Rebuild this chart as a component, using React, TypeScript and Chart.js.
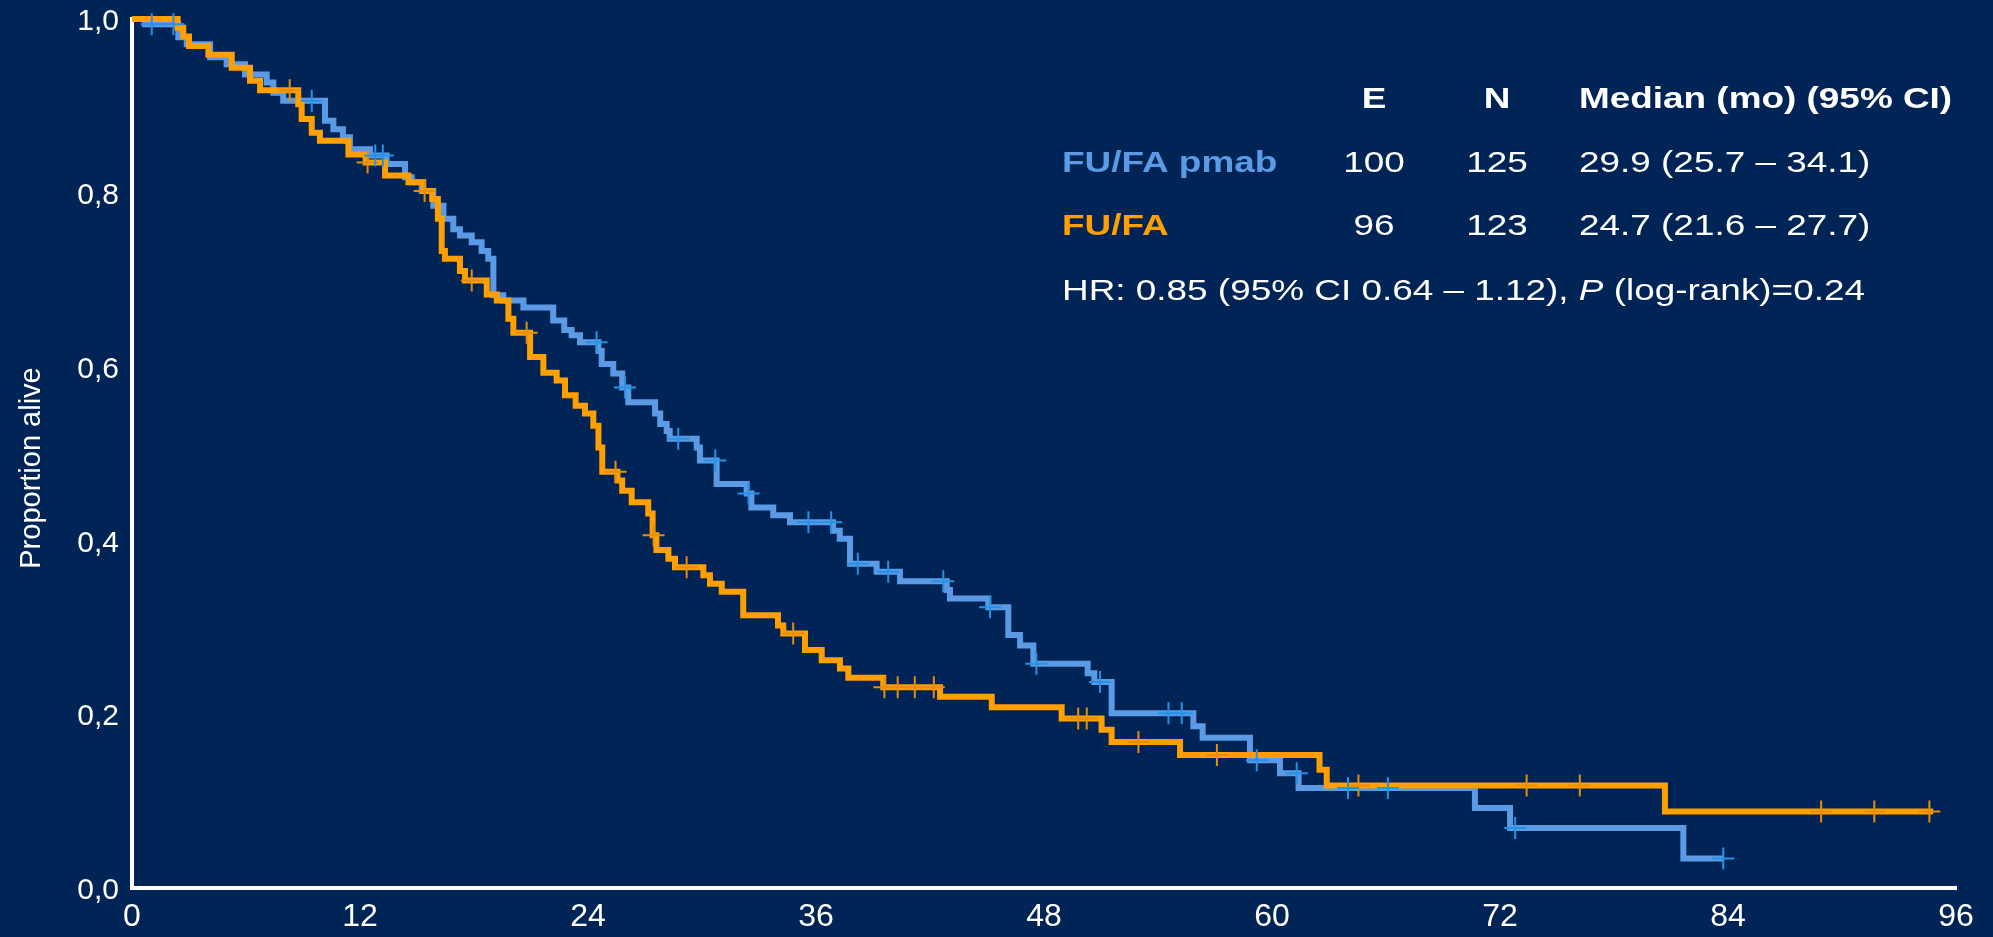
import React, { useEffect, useRef } from 'react';
import { Chart, registerables } from 'chart.js';

Chart.register(...registerables);

// ---------- data ----------
const xTicks = [0, 12, 24, 36, 48, 60, 72, 84, 96];
const yTicks = [0, 0.2, 0.4, 0.6, 0.8, 1.0];
const yTitle = 'Proportion alive';

// FU/FA + panitumumab (blue)
const pmabTimes = [0, 0.68, 2.44, 2.88, 4.11, 4.98, 5.95, 7.09, 7.44, 7.96, 10.16, 10.6, 11.1, 11.47, 12.53, 13.4, 14.37, 14.72, 15.25, 15.86, 16.39, 16.91, 17.26, 17.88, 18.4, 18.75, 19.02, 19.54, 20.6, 22.17, 22.75, 23.14, 23.58, 24.55, 24.72, 25.33, 25.8, 26.12, 27.53, 27.8, 28.14, 28.3, 29.72, 29.89, 30.77, 32.35, 32.6, 33.75, 34.63, 36.9, 37.25, 37.79, 39.19, 40.42, 42.88, 43.05, 45.07, 46.12, 46.74, 47.44, 50.3, 50.65, 51.56, 55.86, 56.35, 58.84, 60.42, 61.4, 70.68, 72.53, 81.65];
const pmabSurv = [1, 0.994, 0.979, 0.971, 0.956, 0.948, 0.936, 0.927, 0.915, 0.906, 0.883, 0.873, 0.864, 0.85, 0.843, 0.833, 0.818, 0.812, 0.802, 0.785, 0.77, 0.758, 0.751, 0.743, 0.733, 0.724, 0.682, 0.676, 0.668, 0.653, 0.642, 0.636, 0.628, 0.618, 0.603, 0.592, 0.576, 0.559, 0.546, 0.534, 0.526, 0.517, 0.507, 0.492, 0.465, 0.454, 0.438, 0.429, 0.421, 0.411, 0.402, 0.373, 0.364, 0.353, 0.343, 0.333, 0.323, 0.291, 0.279, 0.258, 0.247, 0.237, 0.201, 0.186, 0.173, 0.147, 0.132, 0.115, 0.092, 0.069, 0.034];
const pmabEnd = 83.75;
const pmabCensor = [1.04, 2.18, 9.46, 12.8, 13.2, 24.45, 25.95, 28.75, 30.7, 32.45, 35.6, 36.8, 38.2, 39.8, 42.7, 45.16, 47.6, 50.95, 54.55, 55.25, 59.2, 61.3, 64.0, 66.1, 72.8, 83.75];

// FU/FA (orange)
const fufaTimes = [0, 2.4, 2.7, 3.0, 4.02, 5.25, 6.21, 6.74, 8.75, 8.93, 9.46, 9.89, 11.39, 12.3, 13.32, 14.55, 15.33, 15.8, 16.1, 16.3, 16.47, 17.26, 17.53, 18.67, 19.2, 19.81, 20.07, 20.95, 21.65, 22.35, 22.79, 23.35, 23.84, 24.28, 24.55, 24.75, 25.55, 25.8, 26.3, 27.17, 27.4, 27.6, 28.23, 28.58, 30.07, 30.42, 31.04, 32.17, 34.0, 34.28, 35.42, 36.3, 37.26, 37.7, 39.54, 42.53, 45.25, 48.93, 51.03, 51.56, 55.16, 62.5, 62.88, 80.68];
const fufaSurv = [1, 0.99, 0.98, 0.969, 0.959, 0.944, 0.929, 0.918, 0.902, 0.885, 0.869, 0.86, 0.844, 0.835, 0.82, 0.812, 0.802, 0.793, 0.77, 0.733, 0.724, 0.71, 0.699, 0.683, 0.676, 0.655, 0.639, 0.611, 0.593, 0.584, 0.567, 0.555, 0.546, 0.532, 0.507, 0.479, 0.469, 0.457, 0.444, 0.431, 0.406, 0.389, 0.379, 0.369, 0.36, 0.35, 0.341, 0.314, 0.302, 0.293, 0.274, 0.262, 0.2525, 0.242, 0.231, 0.22, 0.208, 0.195, 0.182, 0.168, 0.153, 0.136, 0.118, 0.088];
const fufaEnd = 94.8;
const fufaCensor = [8.3, 12.4, 15.4, 17.88, 20.77, 25.45, 27.45, 29.19, 34.8, 39.6, 40.3, 41.2, 42.2, 49.8, 50.25, 52.97, 57.1, 64.55, 73.4, 76.2, 88.9, 91.7, 94.6];

// summary table
const tableColumns = ['E', 'N', 'Median (mo) (95% CI)'];
const armNames = ['FU/FA pmab', 'FU/FA'];
const armEvents = ['100', '96'];
const armN = ['125', '123'];
const armMedians = ['29.9 (25.7 \u2013 34.1)', '24.7 (21.6 \u2013 27.7)'];
const hrParts = ['HR: 0.85 (95% CI 0.64 \u2013 1.12), ', 'P', ' (log-rank)=0.24'];

// ---------- styles ----------
const BG = '#002456';
const BLUE = '#5B9BE6';
const BLUE_MARK = '#2592E6';
const ORANGE = '#FF9F00';
const ORANGE_MARK = '#E48E0C';
const FONT = '"Liberation Sans", Arial, sans-serif';
const SX = 1.23;

function stepValue(times: number[], surv: number[], t: number): number {
  let v = surv[0];
  for (let i = 0; i < times.length; i++) {
    if (times[i] <= t) v = surv[i];
    else break;
  }
  return v;
}

function curvePoints(times: number[], surv: number[], end: number) {
  const pts = times.map((t, i) => ({ x: t, y: surv[i] }));
  pts.push({ x: end, y: surv[surv.length - 1] });
  return pts;
}

function censorPoints(times: number[], surv: number[], cens: number[]) {
  return cens.map((t) => ({ x: t, y: stepValue(times, surv, t) }));
}

function drawStretched(ctx: CanvasRenderingContext2D, text: string, x: number, y: number, align: CanvasTextAlign, font: string, color: string) {
  ctx.save();
  ctx.font = font;
  ctx.fillStyle = color;
  ctx.textAlign = align;
  ctx.textBaseline = 'alphabetic';
  ctx.translate(x, y);
  ctx.scale(SX, 1);
  ctx.fillText(text, 0, 0);
  ctx.restore();
}

const textPlugin = {
  id: 'kmText',
  afterDraw(chart: any) {
    const ctx: CanvasRenderingContext2D = chart.ctx;
    // y axis title
    ctx.save();
    ctx.fillStyle = '#FFFFFF';
    ctx.font = `29px ${FONT}`;
    ctx.translate(40, 468);
    ctx.rotate(-Math.PI / 2);
    ctx.textAlign = 'center';
    ctx.textBaseline = 'alphabetic';
    ctx.fillText(yTitle, 0, 0);
    ctx.restore();

    const bold = `bold 30px ${FONT}`;
    const reg = `30px ${FONT}`;
    const colE = 1374;
    const colN = 1497;
    const colMed = 1579;
    const colName = 1062;
    const rows = [108, 172, 235];
    // header
    drawStretched(ctx, tableColumns[0], colE, rows[0], 'center', bold, '#FFFFFF');
    drawStretched(ctx, tableColumns[1], colN, rows[0], 'center', bold, '#FFFFFF');
    drawStretched(ctx, tableColumns[2], colMed, rows[0], 'left', bold, '#FFFFFF');
    const armColors = [BLUE, ORANGE];
    for (let i = 0; i < armNames.length; i++) {
      const y = rows[i + 1];
      drawStretched(ctx, armNames[i], colName, y, 'left', bold, armColors[i]);
      drawStretched(ctx, armEvents[i], colE, y, 'center', reg, '#FFFFFF');
      drawStretched(ctx, armN[i], colN, y, 'center', reg, '#FFFFFF');
      drawStretched(ctx, armMedians[i], colMed, y, 'left', reg, '#FFFFFF');
    }
    // HR line
    const fonts = [reg, `italic 30px ${FONT}`, reg];
    let x = colName;
    for (let i = 0; i < hrParts.length; i++) {
      ctx.save();
      ctx.font = fonts[i];
      const w = ctx.measureText(hrParts[i]).width * SX;
      ctx.restore();
      drawStretched(ctx, hrParts[i], x, 300, 'left', fonts[i], '#FFFFFF');
      x += w;
    }
  },
};

export default function App() {
  const ref = useRef<HTMLCanvasElement | null>(null);

  useEffect(() => {
    if (!ref.current) return;
    const chart = new Chart(ref.current, {
      type: 'line',
      data: {
        datasets: [
          {
            label: 'FU/FA pmab censored',
            data: censorPoints(pmabTimes, pmabSurv, pmabCensor),
            showLine: false,
            pointStyle: 'cross',
            pointRadius: 11,
            pointBorderWidth: 2,
            pointBorderColor: BLUE_MARK,
            pointBackgroundColor: BLUE_MARK,
            clip: false,
          } as any,
          {
            label: 'FU/FA censored',
            data: censorPoints(fufaTimes, fufaSurv, fufaCensor),
            showLine: false,
            pointStyle: 'cross',
            pointRadius: 11,
            pointBorderWidth: 2,
            pointBorderColor: ORANGE_MARK,
            pointBackgroundColor: ORANGE_MARK,
            clip: false,
          } as any,
          {
            label: 'FU/FA',
            data: curvePoints(fufaTimes, fufaSurv, fufaEnd),
            borderColor: ORANGE,
            borderWidth: 6,
            stepped: true,
            pointRadius: 0,
            fill: false,
            clip: false,
          } as any,
          {
            label: 'FU/FA pmab',
            data: curvePoints(pmabTimes, pmabSurv, pmabEnd),
            borderColor: BLUE,
            borderWidth: 6,
            stepped: true,
            pointRadius: 0,
            fill: false,
            clip: false,
          } as any,
        ],
      },
      options: {
        animation: false,
        responsive: false,
        maintainAspectRatio: false,
        events: [],
        layout: { padding: { left: 0, top: 19, right: 37, bottom: 0 } },
        plugins: {
          legend: { display: false },
          tooltip: { enabled: false },
        },
        scales: {
          x: {
            type: 'linear',
            min: 0,
            max: 96,
            afterFit: (s: any) => {
              s.height = 49;
              s.paddingLeft = 0;
              s.paddingRight = 0;
              s.paddingTop = 0;
              s.paddingBottom = 0;
            },
            afterBuildTicks: (s: any) => {
              s.ticks = xTicks.map((v) => ({ value: v }));
            },
            grid: { display: false, drawTicks: false },
            border: { display: true, color: '#FFFFFF', width: 4 },
            ticks: {
              color: '#FFFFFF',
              font: { family: FONT, size: 32 },
              padding: 10,
              maxRotation: 0,
              autoSkip: false,
              callback: (v: any) => String(v),
            },
          },
          y: {
            type: 'linear',
            min: 0,
            max: 1,
            afterFit: (s: any) => {
              s.width = 132;
              s.paddingLeft = 0;
              s.paddingRight = 0;
              s.paddingTop = 0;
              s.paddingBottom = 0;
            },
            afterBuildTicks: (s: any) => {
              s.ticks = yTicks.map((v) => ({ value: v }));
            },
            grid: { display: false, drawTicks: false },
            border: { display: true, color: '#FFFFFF', width: 4 },
            ticks: {
              color: '#FFFFFF',
              font: { family: FONT, size: 30, lineHeight: 1 },
              padding: 13,
              labelOffset: 3,
              autoSkip: false,
              callback: (v: any) => Number(v).toFixed(1).replace('.', ','),
            },
          },
        },
      } as any,
      plugins: [textPlugin],
    });
    return () => chart.destroy();
  }, []);

  return (
    <div style={{ position: 'fixed', left: 0, top: 0, width: 1993, height: 937, background: BG }}>
      <canvas ref={ref} width={1993} height={937} style={{ display: 'block', width: 1993, height: 937 }} />
    </div>
  );
}
